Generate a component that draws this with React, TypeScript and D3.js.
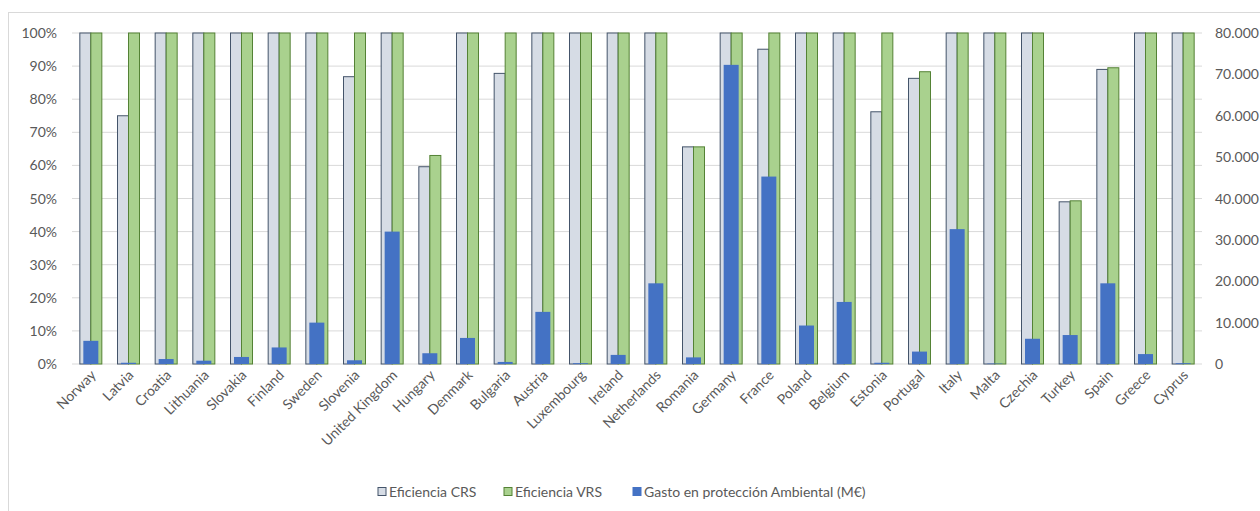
import React from "react";
import * as d3 from "d3";

const countries = ["Norway","Latvia","Croatia","Lithuania","Slovakia","Finland","Sweden","Slovenia","United Kingdom","Hungary","Denmark","Bulgaria","Austria","Luxembourg","Ireland","Netherlands","Romania","Germany","France","Poland","Belgium","Estonia","Portugal","Italy","Malta","Czechia","Turkey","Spain","Greece","Cyprus"];
const crs = [1,0.75,1,1,1,1,1,0.868,1,0.596,1,0.878,1,1,1,1,0.656,1,0.951,1,1,0.762,0.863,1,1,1,0.49,0.89,1,1];
const vrs = [1,1,1,1,1,1,1,1,1,0.63,1,1,1,1,1,1,0.656,1,1,1,1,1,0.883,1,1,1,0.493,0.895,1,1];
const gasto = [5600,300,1200,800,1700,4000,10000,900,32000,2600,6300,500,12600,200,2200,19500,1600,72300,45300,9300,15000,300,3000,32600,100,6100,7000,19500,2400,200];
const leftTicks = [0,0.1,0.2,0.3,0.4,0.5,0.6,0.7,0.8,0.9,1];
const rightTicks = [0,10000,20000,30000,40000,50000,60000,70000,80000];
const legendItems = ["Eficiencia CRS","Eficiencia VRS","Gasto en protección Ambiental (M€)"];

export default function App() {
  const W = 1260, H = 511;
  const top = 33, bottom = 364, left = 72, right = 1202;
  const x = d3.scaleBand<string>().domain(countries).range([left, right]).padding(0);
  const yL = d3.scaleLinear().domain([0, 1]).range([bottom, top]);
  const yR = d3.scaleLinear().domain([0, 80000]).range([bottom, top]);
  const bw = 11;
  const blueW = 15;
  const font = "Lato, 'Open Sans', sans-serif";
  const fs = 14;
  const fmtR = (v: number) => (v === 0 ? "0" : d3.format(",")(v).replace(/,/g, "."));
  const legendX = [378, 504, 633];
  const legendColors = [["#D6DCE5", "#44546A"], ["#A9D18E", "#548235"], ["#4472C4", "#4472C4"]];
  return (
    <svg width={W} height={H} style={{ position: "absolute", left: 0, top: 0 }}>
      <rect x={0} y={0} width={W} height={H} fill="#fff" />
      <rect x={8.5} y={12.5} width={1260} height={520} fill="none" stroke="#D9D9D9" />
      {leftTicks.map((t) => (
        <g key={t}>
          <line x1={left} x2={right} y1={yL(t)} y2={yL(t)} stroke="#D9D9D9" />
          <text x={57} y={yL(t) + 5} textAnchor="end" fontSize={fs} fill="#595959" fontFamily={font}>
            {Math.round(t * 100)}%
          </text>
        </g>
      ))}
      {rightTicks.map((t) => (
        <text key={t} x={1215} y={yR(t) + 5} fontSize={fs} fill="#595959" fontFamily={font}>
          {fmtR(t)}
        </text>
      ))}
      {countries.map((c, i) => {
        const cx = (x(c) as number) + x.bandwidth() / 2;
        return (
          <g key={c}>
            <rect x={cx - bw} y={yL(crs[i])} width={bw} height={bottom - yL(crs[i])} fill="#D6DCE5" stroke="#44546A" strokeWidth={1} />
            <rect x={cx} y={yL(vrs[i])} width={bw} height={bottom - yL(vrs[i])} fill="#A9D18E" stroke="#548235" strokeWidth={1} />
            <rect x={cx - blueW / 2} y={yR(gasto[i])} width={blueW} height={bottom - yR(gasto[i])} fill="#4472C4" />
            <text
              transform={`translate(${cx + 6},${bottom + 12}) rotate(-45)`}
              textAnchor="end"
              fontSize={fs}
              fill="#595959"
              fontFamily={font}
            >
              {c}
            </text>
          </g>
        );
      })}
      {legendItems.map((l, i) => (
        <g key={l}>
          <rect x={legendX[i]} y={487.5} width={8} height={8} fill={legendColors[i][0]} stroke={legendColors[i][1]} />
          <text x={legendX[i] + 11} y={496.5} fontSize={fs} fill="#595959" fontFamily={font}>
            {l}
          </text>
        </g>
      ))}
    </svg>
  );
}
